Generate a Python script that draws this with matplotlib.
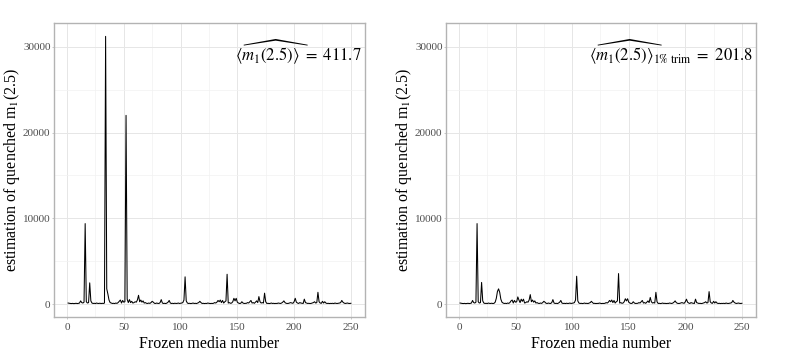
import numpy as np
import matplotlib.pyplot as plt
from matplotlib.ticker import MultipleLocator

# ------------------------------
# Data
# ------------------------------

media = list(range(1, 251))

m1_full = [
    150, 120, 100, 90, 110, 80, 100, 120, 90, 110,
    150, 400, 200, 150, 250, 9400, 300, 150, 200, 2500,
    400, 150, 100, 120, 90, 150, 110, 100, 130, 90,
    120, 100, 150, 31200, 1800, 1200, 500, 200, 150, 100,
    120, 90, 150, 110, 200, 350, 500, 150, 450, 250,
    300, 22000, 600, 200, 550, 200, 350, 150, 200, 300,
    250, 500, 1050, 300, 500, 250, 400, 150, 200, 120,
    100, 150, 110, 200, 350, 250, 120, 100, 150, 110,
    100, 200, 550, 150, 100, 120, 90, 150, 250, 450,
    150, 100, 120, 90, 130, 100, 110, 150, 100, 120,
    150, 200, 500, 3200, 400, 150, 100, 120, 90, 110,
    150, 100, 120, 90, 150, 200, 350, 200, 100, 120,
    90, 110, 100, 150, 120, 90, 110, 100, 120, 200,
    150, 250, 450, 300, 500, 200, 450, 150, 300, 400,
    3500, 150, 200, 120, 150, 300, 700, 400, 700, 250,
    150, 100, 120, 300, 150, 100, 110, 120, 200, 150,
    300, 450, 150, 200, 120, 250, 400, 200, 900, 300,
    150, 200, 150, 1300, 300, 100, 120, 90, 110, 150,
    100, 120, 90, 110, 100, 150, 120, 100, 150, 250,
    400, 200, 120, 100, 110, 150, 200, 150, 120, 300,
    700, 250, 150, 100, 200, 150, 120, 100, 600, 200,
    150, 100, 120, 90, 110, 150, 200, 300, 150, 200,
    1400, 300, 150, 120, 350, 150, 300, 150, 100, 120,
    90, 110, 100, 120, 90, 150, 110, 100, 120, 150,
    200, 450, 250, 150, 100, 120, 150, 110, 100, 120,
]

m1_trim = [
    150, 120, 100, 90, 110, 80, 100, 120, 90, 110,
    150, 450, 200, 150, 250, 9400, 300, 150, 200, 2550,
    400, 150, 100, 120, 90, 150, 110, 100, 130, 90,
    120, 250, 700, 1500, 1800, 1400, 600, 250, 150, 100,
    120, 90, 150, 110, 200, 400, 500, 150, 450, 250,
    300, 860, 500, 200, 600, 350, 600, 150, 200, 300,
    250, 500, 1130, 300, 500, 250, 400, 150, 200, 120,
    100, 150, 110, 200, 350, 250, 120, 100, 150, 110,
    100, 200, 550, 150, 100, 120, 90, 150, 250, 450,
    150, 100, 120, 90, 130, 100, 110, 150, 100, 120,
    150, 200, 500, 3270, 400, 150, 100, 120, 90, 110,
    150, 100, 120, 90, 150, 200, 350, 200, 100, 120,
    90, 110, 100, 150, 120, 90, 110, 100, 120, 200,
    150, 250, 450, 300, 500, 200, 450, 150, 300, 400,
    3580, 150, 200, 120, 150, 300, 650, 400, 650, 250,
    150, 100, 120, 300, 150, 100, 110, 120, 200, 150,
    300, 450, 150, 200, 120, 250, 400, 200, 800, 300,
    150, 200, 150, 1400, 300, 100, 120, 90, 110, 150,
    100, 120, 90, 110, 100, 150, 120, 100, 150, 250,
    400, 200, 120, 100, 110, 150, 200, 150, 120, 300,
    600, 250, 150, 100, 200, 150, 120, 100, 600, 200,
    150, 100, 120, 90, 110, 150, 200, 300, 150, 200,
    1480, 300, 150, 120, 350, 150, 300, 150, 100, 120,
    90, 110, 100, 120, 90, 150, 110, 100, 120, 150,
    200, 450, 250, 150, 100, 120, 150, 110, 100, 120,
]

labels = [
    r"$\widehat{\langle m_1(2.5)\rangle}\ =\ 411.7$",
    r"$\widehat{\langle m_1(2.5)\rangle}_{1\%\ \mathrm{trim}}\ =\ 201.8$",
]

# ------------------------------
# Style
# ------------------------------

plt.rcParams["font.family"] = ["Liberation Serif", "DejaVu Serif"]
plt.rcParams["mathtext.fontset"] = "stix"

GRID_MAJOR = "#E6E6E6"
GRID_MINOR = "#F2F2F2"
BORDER = "#B3B3B3"
TICK_TXT = "#4D4D4D"


def ggplot_expand(lo, hi, frac=0.05):
    span = hi - lo
    return lo - span * frac, hi + span * frac


fig = plt.figure(figsize=(7.85, 3.63), dpi=100)
ax_l = fig.add_axes([54 / 785, 1 - 317 / 363, 311 / 785, 294 / 363])
ax_r = fig.add_axes([446 / 785, 1 - 317 / 363, 310 / 785, 294 / 363])

xlim = ggplot_expand(min(media), max(media))
ylim = ggplot_expand(min(m1_full), max(m1_full))

for ax, series, label in [(ax_l, m1_full, labels[0]), (ax_r, m1_trim, labels[1])]:
    ax.plot(media, series, color="black", linewidth=0.75)
    ax.set_xlim(*xlim)
    ax.set_ylim(*ylim)

    ax.xaxis.set_major_locator(MultipleLocator(50))
    ax.xaxis.set_minor_locator(MultipleLocator(25))
    ax.yaxis.set_major_locator(MultipleLocator(10000))
    ax.yaxis.set_minor_locator(MultipleLocator(5000))
    ax.grid(True, which="major", color=GRID_MAJOR, linewidth=0.7)
    ax.grid(True, which="minor", color=GRID_MINOR, linewidth=0.5)
    ax.set_axisbelow(True)

    for sp in ax.spines.values():
        sp.set_color(BORDER)
        sp.set_linewidth(1.0)

    ax.tick_params(which="major", length=1.5, width=0.5, color=BORDER,
                   labelcolor=TICK_TXT, labelsize=8, pad=1)
    ax.tick_params(axis="x", which="major", pad=2.5)
    ax.tick_params(which="minor", length=0)

    ax.set_xlabel("Frozen media number", fontsize=11.5, labelpad=3)
    ax.set_ylabel("estimation of quenched m$_\\mathrm{1}$(2.5)", fontsize=11.5, labelpad=1)

    ax.text(0.99, 0.87, label, transform=ax.transAxes, ha="right", va="baseline",
            fontsize=12)

fig.savefig("out.png", dpi=100)
